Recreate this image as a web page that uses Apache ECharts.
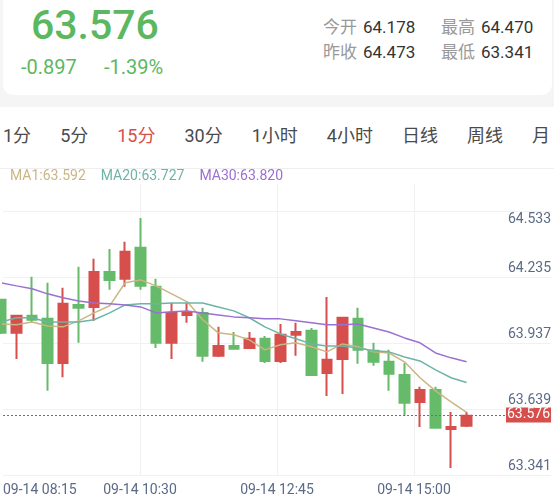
<!DOCTYPE html>
<html lang="zh-CN">
<head>
<meta charset="utf-8">
<title>K线</title>
<script src="https://cdn.jsdelivr.net/npm/echarts@6.0.0/dist/echarts.min.js"></script>
<style>
  html, body { margin: 0; padding: 0; }
  body {
    width: 554px; height: 499px; overflow: hidden; position: relative; background: #fff;
    font-family: Roboto, "Noto Sans CJK SC", sans-serif;
  }
  .quote_bg { position: absolute; left: 0; top: 0; width: 554px; height: 107px; background: #f5f5f5; }
  .quote_card { position: absolute; left: 3px; top: -12px; width: 549px; height: 107px; background: #fff; border-radius: 10px; }
  .abs { position: absolute; white-space: nowrap; }
  .price { left: 31px; top: 5px; font-size: 41px; line-height: 41px; font-weight: 500; color: #5cb860; }
  .change { top: 57px; font-size: 20px; line-height: 20px; color: #5cb860; }
  .stat { font-size: 17px; line-height: 17px; color: #333; }
  .stat span { color: #999; margin-right: 6px; }
  .tabs {
    position: absolute; left: 3px; top: 127px; width: 547px; overflow: hidden; display: flex; gap: 29px;
    font-size: 18px; line-height: 18px; color: #4a4a4a; white-space: nowrap;
  }
  .tabs div { flex: none; }
  .tabs .on { color: #d64f4c; }
  .sep { position: absolute; left: 0; top: 168px; width: 554px; height: 1px; background: #eee; z-index: 2; }
  #kline { position: absolute; left: 0; top: 168px; width: 554px; height: 331px; }
</style>
</head>
<body>
  <div class="quote_bg"></div>
  <div class="quote_card"></div>
  <div class="abs price">63.576</div>
  <div class="abs change" style="left: 21px">-0.897</div>
  <div class="abs change" style="left: 104px">-1.39%</div>
  <div class="abs stat" style="left: 323px; top: 19px"><span>今开</span>64.178</div>
  <div class="abs stat" style="left: 441px; top: 19px"><span>最高</span>64.470</div>
  <div class="abs stat" style="left: 323px; top: 44px"><span>昨收</span>64.473</div>
  <div class="abs stat" style="left: 441px; top: 44px"><span>最低</span>63.341</div>
  <div class="tabs">
    <div>1分</div><div>5分</div><div class="on">15分</div><div>30分</div>
    <div>1小时</div><div>4小时</div><div>日线</div><div>周线</div><div>月线</div>
  </div>
  <div class="sep"></div>
  <div id="kline"></div>
<script>
// 15分钟K线，09-14 08:15 起，每根一个下标
const candleOpen = [64.100, 63.951, 64.028, 64.014, 63.815, 64.077, 64.068, 64.226, 64.195, 64.335,
  64.159, 63.906, 64.032, 64.041, 63.847, 63.892, 63.883, 63.924, 63.824, 63.942,
  63.960, 63.770, 63.833, 64.014, 63.870, 63.820, 63.761, 63.639, 63.693, 63.517, 63.531]
const candleClose = [63.951, 64.028, 64.010, 63.815, 64.082, 64.064, 64.226, 64.190, 64.317, 64.163,
  63.906, 64.041, 64.041, 63.847, 63.892, 63.879, 63.924, 63.824, 63.942, 63.955,
  63.761, 63.829, 64.019, 63.874, 63.820, 63.766, 63.635, 63.693, 63.522, 63.526, 63.576]
const candleLow = [63.946, 63.833, 64.000, 63.689, 63.750, 63.906, 64.005, 64.145, 64.159, 64.145,
  63.883, 63.833, 63.996, 63.820, 63.842, 63.879, 63.879, 63.815, 63.815, 63.847,
  63.761, 63.666, 63.675, 63.811, 63.802, 63.689, 63.576, 63.526, 63.522, 63.341, 63.526]
const candleHigh = [64.105, 64.028, 64.204, 64.177, 64.154, 64.249, 64.285, 64.330, 64.362, 64.470,
  64.195, 64.086, 64.086, 64.064, 63.978, 63.955, 63.955, 63.937, 63.991, 63.996,
  63.973, 64.113, 64.023, 64.064, 63.906, 63.874, 63.815, 63.707, 63.707, 63.594, 63.594]

// 均线
const ma1Data = [63.991, 63.987, 64.000, 63.982, 63.978, 64.005, 64.041, 64.073, 64.177, 64.190,
  64.163, 64.127, 64.091, 64.010, 63.951, 63.942, 63.919, 63.874, 63.897, 63.906,
  63.888, 63.865, 63.901, 63.888, 63.865, 63.860, 63.820, 63.748, 63.689, 63.639, 63.592]
const ma20Data = [64.000, 64.019, 64.019, 64.000, 64.000, 64.000, 64.010, 64.041, 64.077, 64.082,
  64.082, 64.086, 64.086, 64.086, 64.068, 64.050, 64.019, 63.978, 63.946, 63.924,
  63.901, 63.892, 63.892, 63.883, 63.870, 63.865, 63.842, 63.824, 63.784, 63.748, 63.727]
const ma30Data = [64.177, 64.163, 64.150, 64.127, 64.109, 64.095, 64.086, 64.082, 64.077, 64.068,
  64.041, 64.046, 64.050, 64.041, 64.032, 64.023, 64.019, 64.014, 64.014, 64.005,
  63.996, 63.987, 63.987, 63.991, 63.973, 63.955, 63.928, 63.906, 63.860, 63.838, 63.820]

// 刻度文字
const xLabels = ['09-14 08:15', '09-14 10:30', '09-14 12:45', '09-14 15:00']
const yLabels = ['63.341', '63.639', '63.937', '64.235', '64.533']

// 颜色
const UP = '#d64f4c'
const DOWN = '#66bb6a'
const C_MA1 = '#c9b682'
const C_MA20 = '#6db4a6'
const C_MA30 = '#9c6fd3'
const AXIS_TEXT = '#5b6a85'

// 坐标范围（网格线用单独的像素轴）
const X_MIN = 0.129
const X_MAX = 35.44
const Y_MIN = 63.309
const Y_MAX = 64.623
const GRID_W = 548
const GRID_H = 291
const X_STEP = 137
const Y_STEP = 66

const candleData = candleOpen.map((o, i) => [i, o, candleClose[i], candleLow[i], candleHigh[i]])
const toLine = arr => arr.map((v, i) => [i, v])
const lastVal = { MA1: ma1Data, MA20: ma20Data, MA30: ma30Data }
const lastClose = candleClose[candleClose.length - 1]

function maLine(name, data, color) {
  return {
    name: name,
    type: 'line',
    xAxisIndex: 0,
    yAxisIndex: 0,
    data: toLine(data),
    showSymbol: false,
    smooth: false,
    lineStyle: { color: color, width: 1.5 },
    itemStyle: { color: color },
    z: 3
  }
}

let myChart = echarts.init(document.getElementById('kline'))
myChart.setOption({
  animation: false,
  textStyle: { fontFamily: 'Roboto' },
  legend: {
    left: 5,
    top: 1,
    padding: 0,
    icon: 'none',
    itemWidth: 0,
    itemHeight: 14,
    itemGap: 10,
    selectedMode: false,
    textStyle: { fontSize: 14, fontFamily: 'Roboto' },
    formatter: function (name) {
      let arr = lastVal[name]
      return name + ':' + arr[arr.length - 1].toFixed(3)
    },
    data: [
      { name: 'MA1', textStyle: { color: C_MA1, fontSize: 14 } },
      { name: 'MA20', textStyle: { color: C_MA20, fontSize: 14 } },
      { name: 'MA30', textStyle: { color: C_MA30, fontSize: 14 } }
    ]
  },
  grid: { left: 3, right: 3, top: 16, bottom: 24 },
  xAxis: [
    { type: 'value', min: X_MIN, max: X_MAX, show: false },
    {
      type: 'value',
      position: 'bottom',
      min: 0,
      max: GRID_W,
      interval: X_STEP,
      axisLine: { show: false },
      axisTick: { show: false },
      splitLine: { show: true, showMinLine: false, showMaxLine: false, lineStyle: { color: '#f1f1f1', width: 1 } },
      axisLabel: {
        margin: 8,
        fontSize: 14,
        color: AXIS_TEXT,
        alignMinLabel: 'left',
        formatter: function (value) {
          return xLabels[Math.round(value / X_STEP)] || ''
        }
      }
    }
  ],
  yAxis: [
    { type: 'value', min: Y_MIN, max: Y_MAX, show: false, scale: true },
    {
      type: 'value',
      position: 'right',
      min: 0,
      max: GRID_H,
      interval: Y_STEP,
      axisLine: { show: false },
      axisTick: { show: false },
      splitLine: { show: true, showMaxLine: false, lineStyle: { color: '#f1f1f1', width: 1 } },
      axisLabel: {
        inside: true,
        margin: 0,
        showMaxLabel: false,
        formatter: function (value) {
          let i = value / Y_STEP
          if (i !== Math.round(i) || !yLabels[i]) return ''
          // 最上面的刻度文字放在线下面
          if (i === yLabels.length - 1) return '{gap| }\n{val|' + yLabels[i] + '}'
          return '{val|' + yLabels[i] + '}\n{gap| }'
        },
        rich: {
          val: { fontSize: 14, lineHeight: 17, color: AXIS_TEXT, fontFamily: 'Roboto' },
          gap: { fontSize: 14, lineHeight: 17 }
        }
      }
    }
  ],
  series: [
    {
      name: 'K',
      type: 'candlestick',
      xAxisIndex: 0,
      yAxisIndex: 0,
      data: candleData,
      encode: { x: 0, y: [1, 2, 3, 4] },
      barWidth: 10,
      itemStyle: {
        color: UP,
        color0: DOWN,
        borderColor: UP,
        borderColor0: DOWN,
        borderWidth: 2
      },
      z: 2,
      markLine: {
        silent: true,
        symbol: 'none',
        animation: false,
        lineStyle: { color: '#ec3c3a', type: [2, 2], width: 1, opacity: 1 },
        label: {
          position: 'end',
          distance: [-45, 0],
          formatter: lastClose.toFixed(3),
          color: '#fff',
          fontSize: 14,
          lineHeight: 14,
          fontFamily: 'Roboto',
          backgroundColor: UP,
          padding: [1, 1, 0, 1]
        },
        data: [{ yAxis: lastClose }]
      }
    },
    maLine('MA1', ma1Data, C_MA1),
    maLine('MA20', ma20Data, C_MA20),
    maLine('MA30', ma30Data, C_MA30)
  ]
})
</script>
</body>
</html>
